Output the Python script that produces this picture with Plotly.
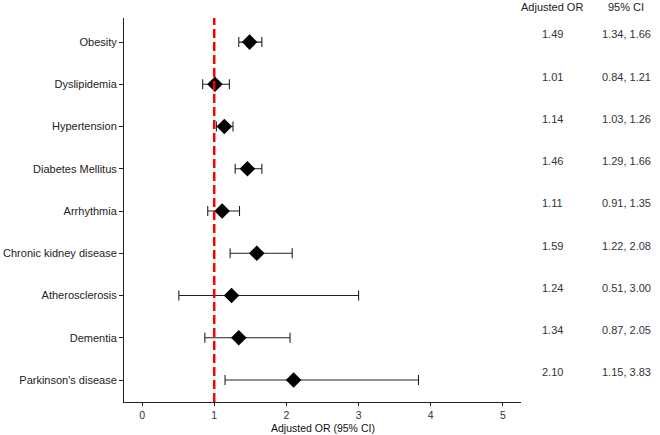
import plotly.graph_objects as go

categories = ["Obesity", "Dyslipidemia", "Hypertension", "Diabetes Mellitus", "Arrhythmia",
              "Chronic kidney disease", "Atherosclerosis", "Dementia", "Parkinson's disease"]
or_values = [1.49, 1.01, 1.14, 1.46, 1.11, 1.59, 1.24, 1.34, 2.10]
ci_low = [1.34, 0.84, 1.03, 1.29, 0.91, 1.22, 0.51, 0.87, 1.15]
ci_high = [1.66, 1.21, 1.26, 1.66, 1.35, 2.08, 3.00, 2.05, 3.83]
x_ticks = [0, 1, 2, 3, 4, 5]

ypos = list(range(len(categories)))
font = "Liberation Sans, Arial, sans-serif"

top, bottom = 18, 33
ph = 435 - top - bottom

fig = go.Figure()
fig.add_trace(go.Scatter(
    x=or_values, y=ypos, mode="markers",
    marker=dict(symbol="diamond", size=12, color="black"),
    error_x=dict(type="data", symmetric=False,
                 array=[h - o for h, o in zip(ci_high, or_values)],
                 arrayminus=[o - l for l, o in zip(ci_low, or_values)],
                 color="#222222", thickness=1.1, width=5),
    showlegend=False, hoverinfo="skip"))

fig.add_shape(type="line", x0=1, x1=1, y0=0, y1=1, xref="x", yref="paper",
              line=dict(color="#ff0000", width=2.5, dash="9px,4px"))

annotations = [dict(xref="paper", yref="paper", x=(552 - 124) / 397, y=1 + 11 / ph,
                    text="Adjusted OR", showarrow=False,
                    font=dict(family=font, size=11, color="#222222"), xanchor="center", yanchor="middle"),
               dict(xref="paper", yref="paper", x=(626 - 124) / 397, y=1 + 11 / ph,
                    text="95% CI", showarrow=False,
                    font=dict(family=font, size=11, color="#222222"), xanchor="center", yanchor="middle"),
               dict(xref="paper", yref="paper", x=0.5, y=-(435 - (435 - bottom)) / ph,
                    text="Adjusted OR (95% CI)", showarrow=False, borderpad=0,
                    font=dict(family=font, size=10.5, color="#111111"), xanchor="center", yanchor="bottom")]
for i, (o, l, h) in enumerate(zip(or_values, ci_low, ci_high)):
    annotations.append(dict(xref="paper", yref="y", x=(552 - 124) / 397, y=i - 0.18,
                            text=f"{o:.2f}", showarrow=False, xanchor="center", yanchor="middle",
                            font=dict(family=font, size=11, color="#333333")))
    annotations.append(dict(xref="paper", yref="y", x=(626 - 124) / 397, y=i - 0.18,
                            text=f"{l:.2f}, {h:.2f}", showarrow=False, xanchor="center", yanchor="middle",
                            font=dict(family=font, size=11, color="#333333")))

fig.update_layout(
    width=660, height=435,
    margin=dict(l=124, r=139, t=top, b=bottom, autoexpand=False),
    plot_bgcolor="white", paper_bgcolor="white",
    font=dict(family=font, size=11, color="#222222"),
    annotations=annotations,
    xaxis=dict(range=[-0.25, 5.25], tickvals=x_ticks, ticktext=[str(t) for t in x_ticks],
               showgrid=False, zeroline=False, showline=True, linecolor="#222222", linewidth=1,
               ticks="outside", ticklen=3, tickcolor="#222222", automargin=False,
               ticklabelstandoff=0,
               tickfont=dict(size=10.5, color="#333333")),
    yaxis=dict(range=[8.52, -0.57], tickvals=ypos, ticktext=categories,
               showgrid=False, zeroline=False, showline=True, linecolor="#222222", linewidth=1,
               ticks="outside", ticklen=4, tickcolor="#222222", automargin=False,
               tickfont=dict(size=11, color="#222222")),
)

fig.write_html("out.html")
